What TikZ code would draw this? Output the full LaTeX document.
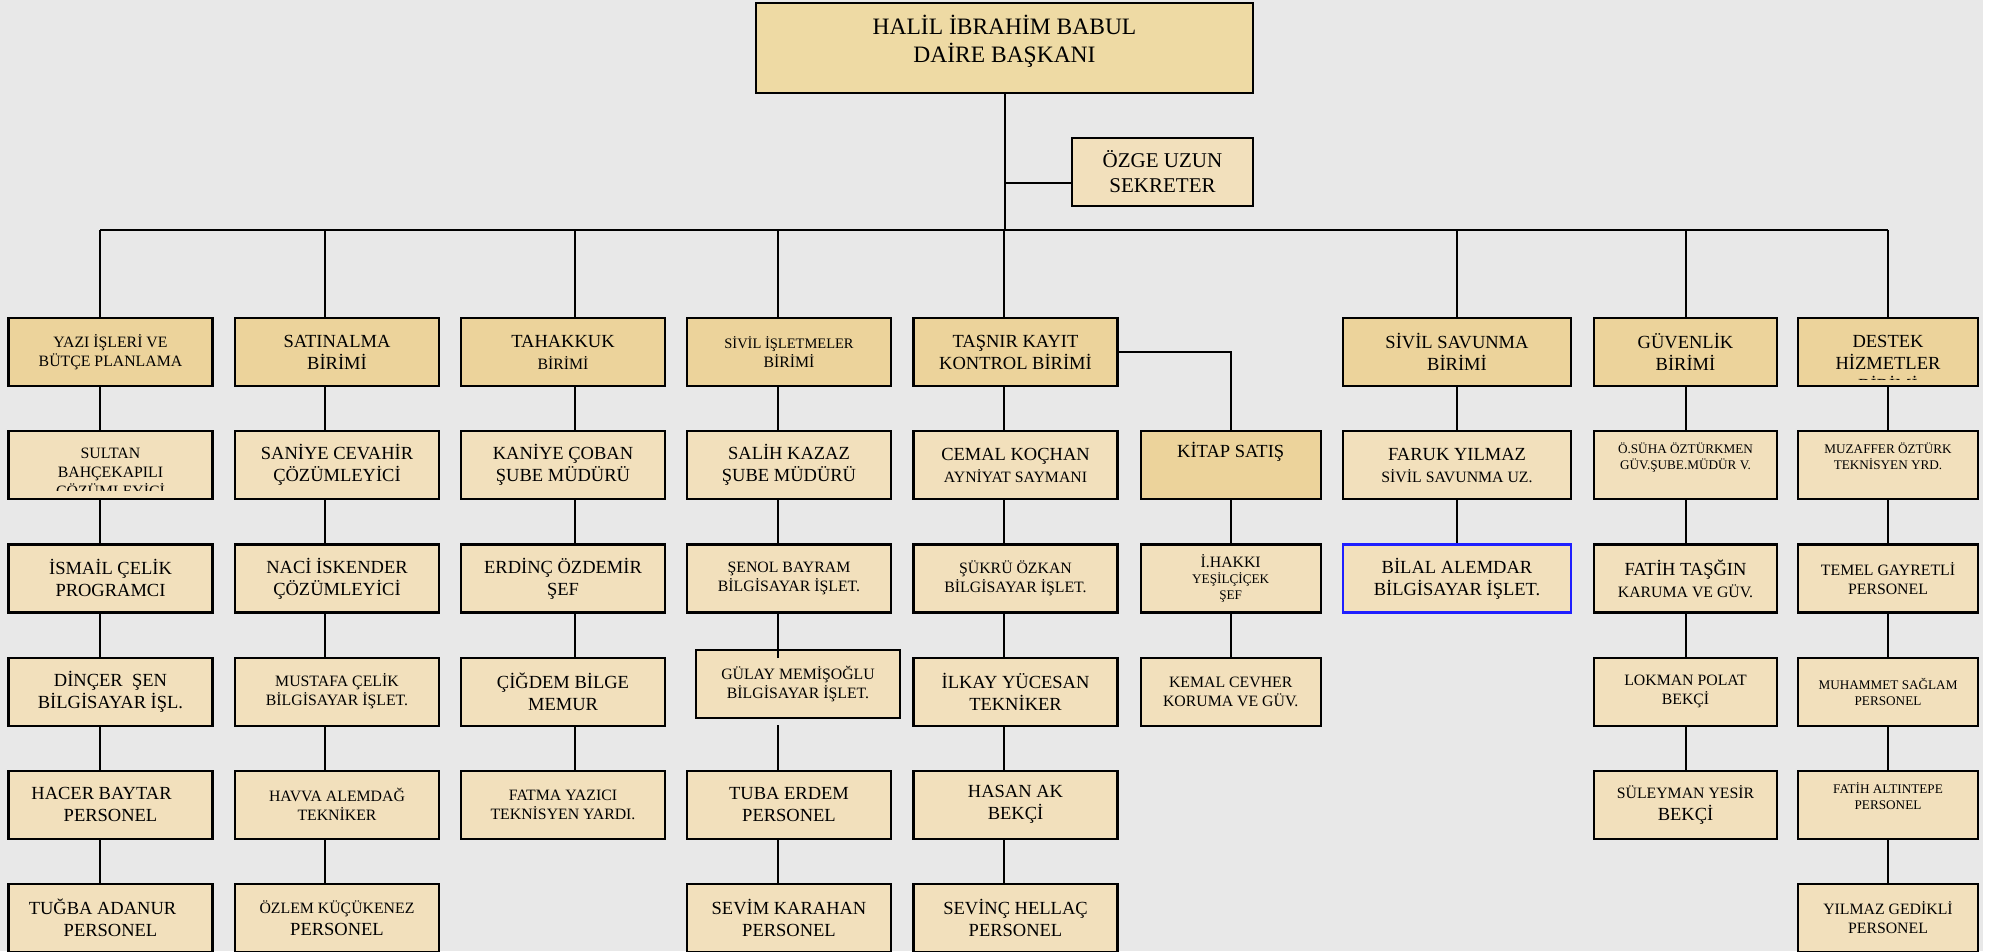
\documentclass[tikz,border=0pt]{standalone}
\usepackage{fontspec}
\setmainfont{Liberation Serif}
\usetikzlibrary{positioning}
\definecolor{zemin}{HTML}{E8E8E8}
\definecolor{kagit}{HTML}{F2E0BC}
\definecolor{birimrenk}{HTML}{ECD39B}
\definecolor{baskanrenk}{HTML}{EEDAA4}
\definecolor{mavi}{HTML}{1F1FFF}
\newcommand{\buyuk}{\fontsize{18.5}{22}\selectfont}
\newcommand{\orta}{\fontsize{15.8}{19}\selectfont}
\newcommand{\kucuk}{\fontsize{13.2}{16}\selectfont}
\tikzset{
  every picture/.style={line width=2pt},
  kutu/.style={draw, line width=2.2pt, fill=kagit, minimum width=204pt,
    minimum height=68pt, inner sep=1pt, align=center, font=\buyuk},
  birim/.style={kutu, fill=birimrenk}}

\begin{document}
\begin{tikzpicture}[x=1pt, y=1pt, node distance=43pt]

    \useasboundingbox (0,0) rectangle (1995,-951);
    \clip (0,0) rectangle (1995,-951);
    \fill[zemin] (0,0) rectangle (1983,-951);

    \node[kutu, fill=baskanrenk, minimum width=497pt, minimum height=90pt,
      font=\fontsize{23.5}{28}\selectfont, text depth=19pt] (baskan) at (1004.5,-48)
      {HALİL İBRAHİM BABUL\\DAİRE BAŞKANI};
    \node[kutu, minimum width=181pt, font=\fontsize{21}{25}\selectfont] (sekreter)
      at (1162.5,-172) {ÖZGE UZUN\\SEKRETER};

    \begin{scope}
      \node[birim, font=\orta] (yazi) at (110.5,-352) {YAZI İŞLERİ VE\\BÜTÇE PLANLAMA};
      \node[kutu] (sultan) [below=of yazi] {};
      \node[kutu] (ismail) [below=of sultan] {İSMAİL ÇELİK\\PROGRAMCI};
      \node[kutu] (dincer) [below=of ismail] {DİNÇER\ \ ŞEN\\BİLGİSAYAR İŞL.};
      \node[kutu] (hacer) [below=of dincer] {HACER BAYTAR\hspace*{18pt}\\PERSONEL};
      \node[kutu] (tugba) [below=of hacer] {TUĞBA ADANUR\hspace*{16pt}\\PERSONEL};
    \end{scope}

    \begin{scope}
      \node[birim] (satin) at (337,-352) {SATINALMA\\BİRİMİ};
      \node[kutu] (saniye) [below=of satin] {SANİYE CEVAHİR\\ÇÖZÜMLEYİCİ};
      \node[kutu] (naci) [below=of saniye] {NACİ İSKENDER\\ÇÖZÜMLEYİCİ};
      \node[kutu, font=\orta] (mustafa) [below=of naci] {MUSTAFA ÇELİK\\BİLGİSAYAR İŞLET.};
      \node[kutu, font=\orta] (havva) [below=of mustafa] {HAVVA ALEMDAĞ\\TEKNİKER};
      \node[kutu] (ozlem) [below=of havva] {{\orta ÖZLEM KÜÇÜKENEZ}\\PERSONEL};
    \end{scope}

    \begin{scope}
      \node[birim] (tahakkuk) at (563,-352) {TAHAKKUK\\{\orta BİRİMİ}};
      \node[kutu] (kaniye) [below=of tahakkuk] {KANİYE ÇOBAN\\ŞUBE MÜDÜRÜ};
      \node[kutu] (erdinc) [below=of kaniye] {ERDİNÇ ÖZDEMİR\\ŞEF};
      \node[kutu] (cigdem) [below=of erdinc] {ÇİĞDEM BİLGE\\MEMUR};
      \node[kutu, font=\orta] (fatma) [below=of cigdem] {FATMA YAZICI\\TEKNİSYEN YARDI.};
    \end{scope}

    \begin{scope}
      \node[birim, font=\orta] (sivil) at (789,-352)
        {{\fontsize{14.5}{17}\selectfont SİVİL İŞLETMELER}\\BİRİMİ};
      \node[kutu] (salih) [below=of sivil] {SALİH KAZAZ\\ŞUBE MÜDÜRÜ};
      \node[kutu, font=\orta] (senol) [below=of salih] {ŞENOL BAYRAM\\BİLGİSAYAR İŞLET.};
      \node[kutu, font=\orta] (gulay) [below=of senol, xshift=9pt, yshift=8pt]
        {GÜLAY MEMİŞOĞLU\\BİLGİSAYAR İŞLET.};
      \node[kutu] (tuba) [below=of gulay, xshift=-9pt, yshift=-8pt] {TUBA ERDEM\\PERSONEL};
      \node[kutu] (sevim) [below=of tuba] {SEVİM KARAHAN\\PERSONEL};
    \end{scope}

    \begin{scope}
      \node[birim] (tasnir) at (1015.5,-352) {TAŞNIR KAYIT\\KONTROL BİRİMİ};
      \node[kutu] (cemal) [below=of tasnir] {CEMAL KOÇHAN\\{\orta AYNİYAT SAYMANI}};
      \node[kutu, font=\orta] (sukru) [below=of cemal] {ŞÜKRÜ ÖZKAN\\BİLGİSAYAR İŞLET.};
      \node[kutu] (ilkay) [below=of sukru] {İLKAY YÜCESAN\\TEKNİKER};
      \node[kutu] (hasan) [below=of ilkay] {HASAN AK\\BEKÇİ};
      \node[kutu] (sevinc) [below=of hasan] {SEVİNÇ HELLAÇ\\PERSONEL};
    \end{scope}

    \begin{scope}[kutu/.append style={minimum width=180pt}]
      \node[birim, text depth=30pt] (kitap) [right=21pt of cemal] {KİTAP SATIŞ};
      \node[kutu, font=\kucuk] (hakki) [below=of kitap] {{\orta İ.HAKKI}\\YEŞİLÇİÇEK\\ŞEF};
      \node[kutu, font=\orta] (kemal) [below=of hakki] {KEMAL CEVHER\\KORUMA VE GÜV.};
    \end{scope}

    \begin{scope}[kutu/.append style={minimum width=228pt}]
      \node[birim] (savunma) at (1457,-352) {SİVİL SAVUNMA\\BİRİMİ};
      \node[kutu] (faruk) [below=of savunma] {FARUK YILMAZ\\{\orta SİVİL SAVUNMA UZ.}};
      \node[kutu, draw=mavi] (bilal) [below=of faruk] {BİLAL ALEMDAR\\BİLGİSAYAR İŞLET.};
    \end{scope}

    \begin{scope}[kutu/.append style={minimum width=183pt}]
      \node[birim] (guvenlik) at (1685.5,-352) {GÜVENLİK\\BİRİMİ};
      \node[kutu, font=\kucuk, text depth=19pt] (suha) [below=of guvenlik]
        {Ö.SÜHA ÖZTÜRKMEN\\GÜV.ŞUBE.MÜDÜR V.};
      \node[kutu] (fatih) [below=of suha] {FATİH TAŞĞIN\\{\orta KARUMA VE GÜV.}};
      \node[kutu, font=\orta] (lokman) [below=of fatih] {LOKMAN POLAT\\BEKÇİ};
      \node[kutu] (suleyman) [below=of lokman] {{\orta SÜLEYMAN YESİR}\\BEKÇİ};
    \end{scope}

    \begin{scope}[kutu/.append style={minimum width=180pt}]
      \node[birim] (destek) at (1888,-352) {};
      \node[kutu, font=\kucuk, text depth=19pt] (muzaffer) [below=of destek]
        {MUZAFFER ÖZTÜRK\\TEKNİSYEN YRD.};
      \node[kutu, font=\orta] (temel) [below=of muzaffer] {TEMEL GAYRETLİ\\PERSONEL};
      \node[kutu, font=\kucuk] (muhammet) [below=of temel] {MUHAMMET SAĞLAM\\PERSONEL};
      \node[kutu, font=\kucuk, text depth=17pt] (altintepe) [below=of muhammet]
        {FATİH ALTINTEPE\\PERSONEL};
      \node[kutu, font=\orta] (yilmaz) [below=of altintepe] {YILMAZ GEDİKLİ\\PERSONEL};
    \end{scope}

    \begin{scope}
      \clip ([yshift=9.5pt]sultan.south west) rectangle (sultan.north east);
      \node[font=\orta, align=center] (sultanyazi) at ([yshift=-9pt]sultan.center)
        {SULTAN\\BAHÇEKAPILI\\ÇÖZÜMLEYİCİ};
    \end{scope}
    \begin{scope}
      \clip ([yshift=8pt]destek.south west) rectangle (destek.north east);
      \node[font=\buyuk, align=center] (destekyazi) at ([yshift=-11pt]destek.center)
        {DESTEK\\HİZMETLER\\BİRİMİ};
    \end{scope}

    \coordinate (kavsak) at ([yshift=-136pt]baskan.south);
    \draw (baskan.south) -- (kavsak);
    \draw ([yshift=-11pt]sekreter.west) -- ([yshift=-11pt]sekreter.west -| baskan.south);
    \draw ([xshift=-10.5pt]yazi.north |- kavsak) -- (destek.north |- kavsak);
    \foreach \n/\k in {yazi/-10.5pt, satin/-12pt, tahakkuk/11.5pt, sivil/-11pt,
        tasnir/-11.5pt, savunma/0pt, guvenlik/0pt, destek/0pt}
      \draw ([xshift=\k]\n.north) -- ([xshift=\k]\n.north |- kavsak);

    \foreach \a/\b/\k in {yazi/sultan/-10.5pt, sultan/ismail/-10.5pt,
        ismail/dincer/-10.5pt, dincer/hacer/-10.5pt, hacer/tugba/-10.5pt,
        satin/saniye/-12pt, saniye/naci/-12pt, naci/mustafa/-12pt,
        mustafa/havva/-12pt, havva/ozlem/-12pt,
        tahakkuk/kaniye/11.5pt, kaniye/erdinc/11.5pt, erdinc/cigdem/11.5pt,
        cigdem/fatma/11.5pt,
        sivil/salih/-11pt, salih/senol/-11pt, tuba/sevim/-11pt,
        tasnir/cemal/-11.5pt, cemal/sukru/-11.5pt, sukru/ilkay/-11.5pt,
        ilkay/hasan/-11.5pt, hasan/sevinc/-11.5pt,
        kitap/hakki/0pt, hakki/kemal/0pt,
        savunma/faruk/0pt, faruk/bilal/0pt,
        guvenlik/suha/0pt, suha/fatih/0pt, fatih/lokman/0pt, lokman/suleyman/0pt,
        destek/muzaffer/0pt, muzaffer/temel/0pt, temel/muhammet/0pt,
        muhammet/altintepe/0pt, altintepe/yilmaz/0pt}
      \draw ([xshift=\k]\a.south) -- ([xshift=\k]\b.north);

    \draw ([xshift=-11pt]senol.south) -- ++(0,-44pt);
    \draw ([xshift=-11pt]tuba.north) -- ++(0,45pt);
    \draw (tasnir.east) -| (kitap.north);

  \end{tikzpicture}
\end{document}
